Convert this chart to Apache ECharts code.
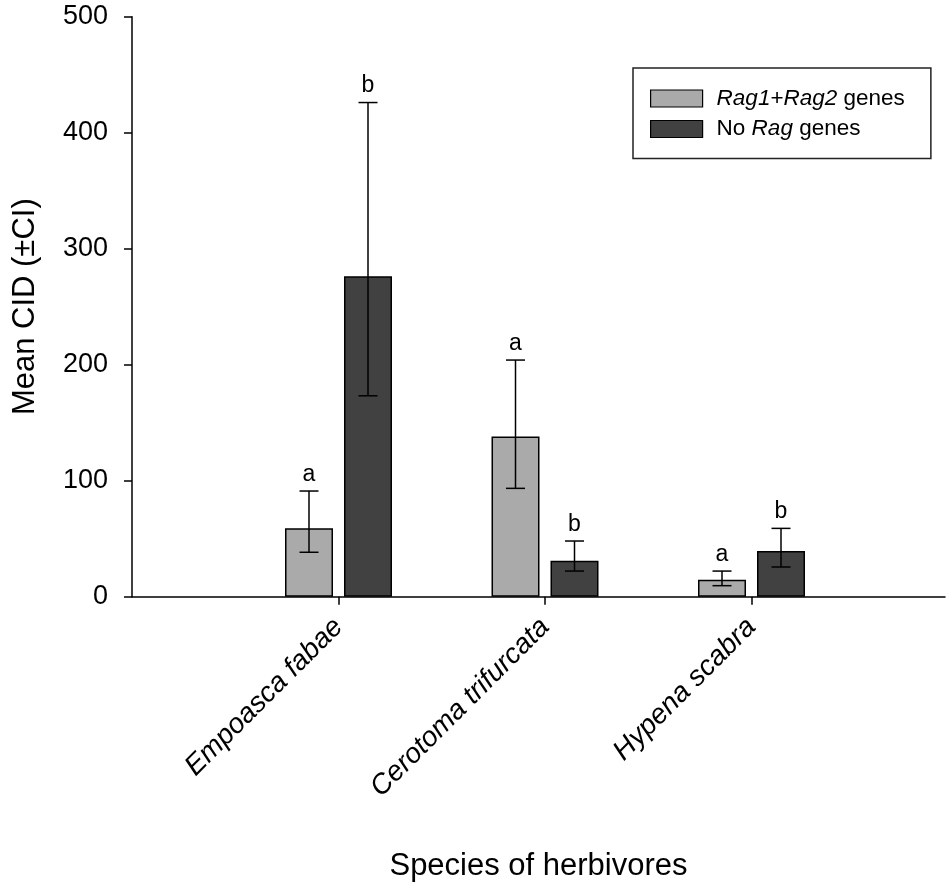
<!DOCTYPE html>
<html>
<head>
<meta charset="utf-8">
<script src="https://cdn.jsdelivr.net/npm/echarts@6/dist/echarts.min.js"></script>
<style>
html,body{margin:0;padding:0;background:#fff;}
#chart{width:949px;height:884px;}
</style>
</head>
<body>
<div id="chart"></div>
<script>
// ---- data ----
const categories = ['Empoasca fabae', 'Cerotoma trifurcata', 'Hypena scabra'];
const categoryPos = [1, 2, 3];
const ragMean = [59, 138, 14.7];
const ragLow = [38.3, 93.4, 9.5];
const ragHigh = [91.1, 204, 22.1];
const ragLetters = ['a', 'a', 'a'];
const noRagMean = [276.3, 31, 39.4];
const noRagLow = [173.2, 22.1, 25.6];
const noRagHigh = [426, 48, 58.9];
const noRagLetters = ['b', 'b', 'b'];
const yMin = 0, yMax = 500, yInterval = 100;
const seriesNames = ['Rag1+Rag2 genes', 'No Rag genes'];

// ---- styling ----
const FONT = "'Liberation Sans', Arial, Helvetica, sans-serif";
const LIGHT = '#aaaaaa';
const DARK = '#414141';
const BAR_W = 48;
const BAR_GAP_PX = 11;
const HALF_OFF = (BAR_W + BAR_GAP_PX) / 2;
const CAP = 9.5;

function barData(means) {
  return categoryPos.map((x, i) => [x, means[i]]);
}
function errData(low, high, letters) {
  return categoryPos.map((x, i) => [x, low[i], high[i], letters[i]]);
}
function errRender(sign) {
  return function (params, api) {
    const x = api.value(0);
    const lo = api.coord([x, api.value(1)]);
    const hi = api.coord([x, api.value(2)]);
    const cx = lo[0] + sign * HALF_OFF;
    const st = { stroke: '#000', lineWidth: 1.5 };
    return {
      type: 'group',
      children: [
        { type: 'line', shape: { x1: cx, y1: lo[1], x2: cx, y2: hi[1] }, style: st },
        { type: 'line', shape: { x1: cx - CAP, y1: hi[1], x2: cx + CAP, y2: hi[1] }, style: st },
        { type: 'line', shape: { x1: cx - CAP, y1: lo[1], x2: cx + CAP, y2: lo[1] }, style: st },
        { type: 'text', x: cx, y: hi[1] - 5,
          style: { text: api.value(3), fill: '#000', font: "23px " + FONT,
                   textAlign: 'center', textVerticalAlign: 'bottom', verticalAlign: 'bottom' } }
      ]
    };
  };
}

const chart = echarts.init(document.getElementById('chart'), null, { renderer: 'canvas' });
chart.setOption({
  backgroundColor: '#fff',
  animation: false,
  textStyle: { fontFamily: FONT, color: '#000' },
  grid: { left: 132, right: 4, top: 16.7, bottom: 287.3, containLabel: false, outerBoundsMode: 'none' },
  legend: {
    data: seriesNames,
    left: 633, top: 68,
    orient: 'vertical',
    icon: 'rect',
    itemWidth: 52, itemHeight: 17,
    itemGap: 7.5,
    padding: [19, 26, 18, 17],
    borderColor: '#222', borderWidth: 1.5,
    backgroundColor: '#fff',
    itemStyle: { borderColor: '#000', borderWidth: 1.2 },
    textStyle: {
      fontFamily: FONT, fontSize: 22.5, color: '#000', lineHeight: 22, padding: [0, 0, 0, 9],
      rich: {
        n: { fontFamily: FONT, fontSize: 22.5, color: '#000', lineHeight: 22 },
        i: { fontFamily: FONT, fontSize: 22.5, color: '#000', lineHeight: 22, fontStyle: 'italic' }
      }
    },
    formatter: function (name) {
      if (name === seriesNames[0]) return '{i|Rag1}{n|+}{i|Rag2}{n| genes}';
      return '{n|No }{i|Rag}{n| genes}';
    }
  },
  xAxis: {
    type: 'value',
    min: 0,
    max: 3.937,
    splitLine: { show: false },
    axisLine: { show: true, onZero: false, lineStyle: { color: '#000', width: 1.5 } },
    axisTick: { show: true, inside: false, length: 8, customValues: categoryPos,
                lineStyle: { color: '#000', width: 1.5 } },
    axisLabel: {
      show: true, customValues: categoryPos, rotate: 45, margin: 26,
      fontSize: 28, fontStyle: 'italic', fontFamily: FONT, color: '#000',
      formatter: function (v) {
        const idx = categoryPos.indexOf(Math.round(v));
        return idx >= 0 && Math.abs(v - categoryPos[idx]) < 1e-6 ? categories[idx] : '';
      }
    },
    name: 'Species of herbivores',
    nameLocation: 'middle',
    nameGap: 254,
    nameTextStyle: { fontSize: 31, fontFamily: FONT, color: '#000' }
  },
  yAxis: {
    type: 'value',
    min: yMin, max: yMax, interval: yInterval,
    splitLine: { show: false },
    axisLine: { show: true, lineStyle: { color: '#000', width: 1.5 } },
    axisTick: { show: true, inside: false, length: 8, lineStyle: { color: '#000', width: 1.5 } },
    axisLabel: { fontSize: 27, fontFamily: FONT, color: '#000', margin: 24 },
    name: 'Mean CID (±CI)',
    nameLocation: 'middle',
    nameRotate: 90,
    nameGap: 91,
    nameTextStyle: { fontSize: 31, fontFamily: FONT, color: '#000' }
  },
  series: [
    {
      name: seriesNames[0], type: 'bar', data: barData(ragMean),
      barWidth: BAR_W, barGap: (BAR_GAP_PX / BAR_W * 100).toFixed(1) + '%',
      itemStyle: { color: LIGHT, borderColor: '#000', borderWidth: 1.5 },
      z: 2
    },
    {
      name: seriesNames[1], type: 'bar', data: barData(noRagMean),
      barWidth: BAR_W, barGap: (BAR_GAP_PX / BAR_W * 100).toFixed(1) + '%',
      itemStyle: { color: DARK, borderColor: '#000', borderWidth: 1.5 },
      z: 2
    },
    {
      name: 'err1', type: 'custom', data: errData(ragLow, ragHigh, ragLetters),
      renderItem: errRender(-1), z: 5, clip: false,
      encode: { x: 0, y: [1, 2] }
    },
    {
      name: 'err2', type: 'custom', data: errData(noRagLow, noRagHigh, noRagLetters),
      renderItem: errRender(1), z: 5, clip: false,
      encode: { x: 0, y: [1, 2] }
    }
  ]
});
</script>
</body>
</html>
